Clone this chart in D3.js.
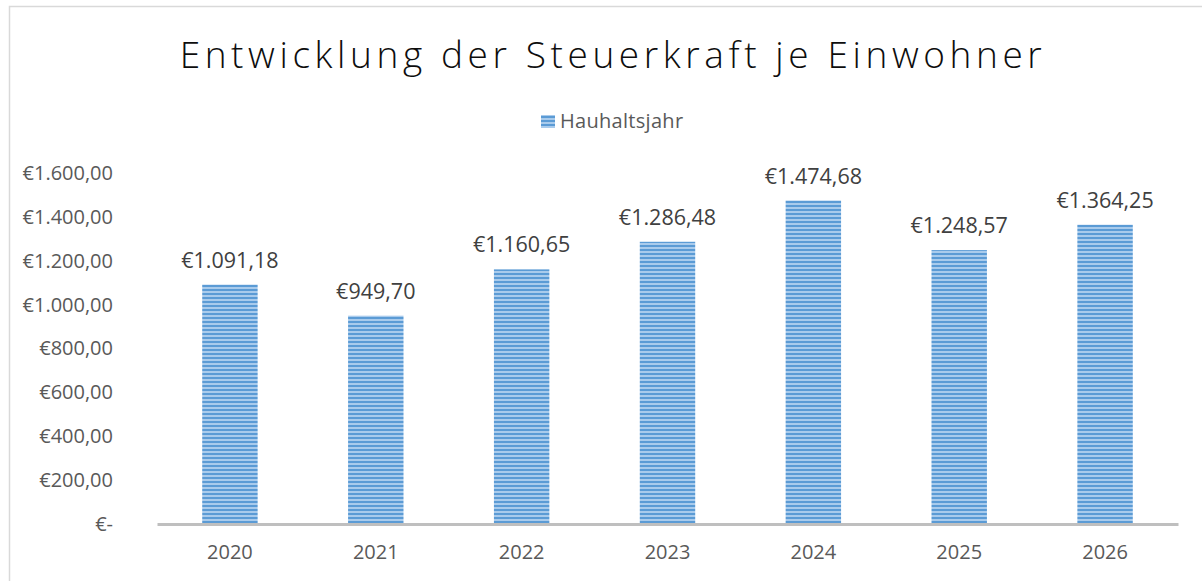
<!DOCTYPE html>
<html>
<head>
<meta charset="utf-8">
<script src="https://cdn.jsdelivr.net/npm/d3@7"></script>
<style>
  body { margin: 0; background: #fff; }
  text { font-family: "Open Sans", sans-serif; }
</style>
</head>
<body>
<div id="chart"></div>
<script>
// data
var years = ["2020", "2021", "2022", "2023", "2024", "2025", "2026"];
var values = [1091.18, 949.70, 1160.65, 1286.48, 1474.68, 1248.57, 1364.25];
var yTicks = [0, 200, 400, 600, 800, 1000, 1200, 1400, 1600];
var seriesName = "Hauhaltsjahr";
var title = "Entwicklung der Steuerkraft je Einwohner";

var W = 1202, H = 581;
var margin = {top: 173, right: 24, bottom: 57, left: 157};
var width = W - margin.left - margin.right,
    height = H - margin.top - margin.bottom;

var de = d3.formatLocale({decimal: ",", thousands: ".", grouping: [3], currency: ["€", ""]});
var fmt = de.format("$,.2f");
function euro(v) { return v === 0 ? "€-" : fmt(v); }

var svg = d3.select("#chart").append("svg")
  .attr("width", W).attr("height", H);

// stripe pattern for bars
var pat = svg.append("defs").append("pattern")
  .attr("id", "stripes")
  .attr("patternUnits", "userSpaceOnUse")
  .attr("width", 8).attr("height", 4);
pat.append("rect").attr("width", 8).attr("height", 4).attr("fill", "#a9cbec");
pat.append("rect").attr("width", 8).attr("height", 2).attr("fill", "#5b9bd5");

// outer frame
svg.append("rect")
  .attr("x", 9.5).attr("y", 6.5)
  .attr("width", W).attr("height", H)
  .attr("fill", "none").attr("stroke", "#d9d9d9").attr("stroke-width", 1.5);

svg.append("text")
  .attr("x", 613).attr("y", 68)
  .attr("text-anchor", "middle")
  .style("font-size", "37px")
  .style("letter-spacing", "4.6px")
  .style("font-weight", 300)
  .attr("fill", "#0d0d0d")
  .text(title);

// legend
svg.append("rect")
  .attr("x", 541).attr("y", 115).attr("width", 14).attr("height", 13)
  .attr("fill", "url(#stripes)");
svg.append("text")
  .attr("x", 560).attr("y", 128)
  .style("font-size", "20px")
  .style("letter-spacing", "0.3px")
  .attr("fill", "#595959")
  .text(seriesName);

var g = svg.append("g")
  .attr("transform", "translate(" + margin.left + "," + margin.top + ")");

var x = d3.scaleBand()
  .domain(years)
  .range([0, width])
  .paddingInner(0.62)
  .paddingOuter(0.31);

var y = d3.scaleLinear()
  .domain([0, 1600])
  .range([height, 0]);

// y axis labels
var yAxis = g.append("g")
  .attr("transform", "translate(-41,0)")
  .call(d3.axisLeft(y).tickValues(yTicks).tickFormat(euro).tickSize(0));
yAxis.select(".domain").remove();
yAxis.selectAll("text")
  .style("font-size", "20px")
  .style("font-family", "Open Sans, sans-serif")
  .attr("fill", "#595959");

// bars
g.selectAll(".bar")
  .data(values)
  .enter().append("rect")
  .attr("class", "bar")
  .attr("x", function(d, i) { return x(years[i]); })
  .attr("y", function(d) { return y(d); })
  .attr("width", x.bandwidth())
  .attr("height", function(d) { return height - y(d); })
  .attr("fill", "url(#stripes)");

// data labels
g.selectAll(".lbl")
  .data(values)
  .enter().append("text")
  .attr("class", "lbl")
  .attr("x", function(d, i) { return x(years[i]) + x.bandwidth() / 2; })
  .attr("y", function(d) { return y(d) - 17; })
  .attr("text-anchor", "middle")
  .style("font-size", "21.5px")
  .attr("fill", "#404040")
  .text(euro);

// x axis
var xAxis = g.append("g")
  .attr("transform", "translate(0," + height + ")")
  .call(d3.axisBottom(x).tickSize(0).tickPadding(21));
xAxis.select(".domain")
  .attr("stroke", "#bfbfbf").attr("stroke-width", 3);
xAxis.selectAll("text")
  .style("font-size", "20px")
  .style("font-family", "Open Sans, sans-serif")
  .attr("fill", "#595959");
</script>
</body>
</html>
